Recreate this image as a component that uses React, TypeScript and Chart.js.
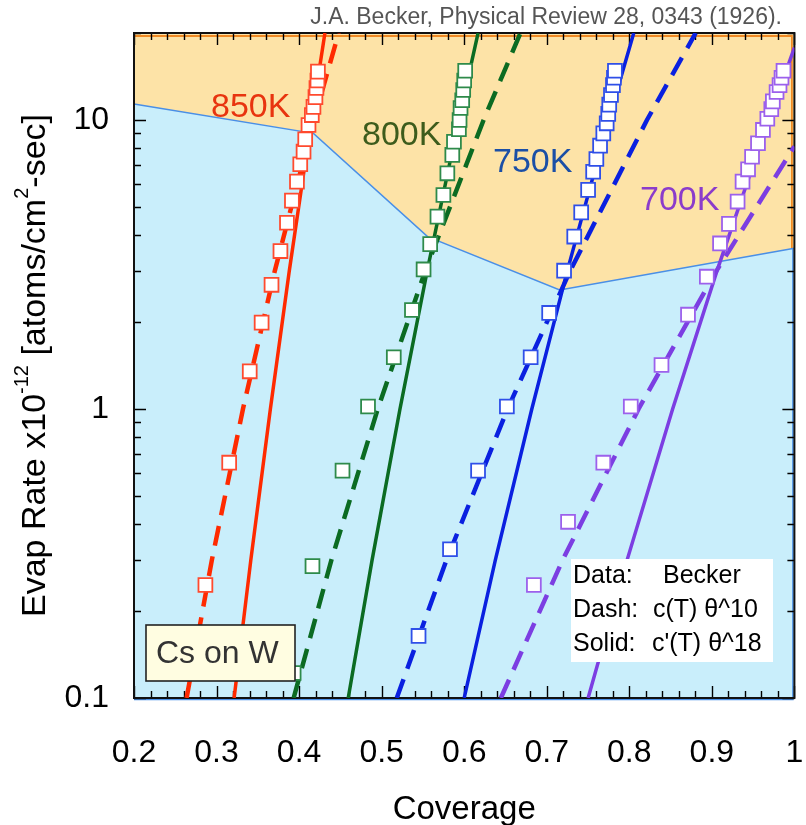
import React, { useEffect, useRef } from "react";
import { Chart, registerables } from "chart.js";
Chart.register(...registerables);

// ---- Data ----
const cov850 = [0.2865, 0.3153, 0.3402, 0.3546, 0.3666, 0.3774, 0.3853, 0.3913, 0.3974, 0.4014, 0.4054, 0.4074, 0.4114, 0.4154, 0.4174, 0.4198, 0.421, 0.4222, 0.4228];
const rate850 = [0.246, 0.652, 1.35, 1.99, 2.69, 3.52, 4.41, 5.26, 6.12, 7.03, 7.77, 8.58, 9.61, 10.4, 11.1, 12.0, 12.9, 13.7, 14.7];

const cov800 = [0.3934, 0.4162, 0.4526, 0.4835, 0.5147, 0.5367, 0.5508, 0.5588, 0.5676, 0.5748, 0.5796, 0.5856, 0.5876, 0.5936, 0.5944, 0.5956, 0.5976, 0.5988, 0.6, 0.6012];
const rate800 = [0.122, 0.286, 0.612, 1.02, 1.51, 2.2, 3.04, 3.72, 4.63, 5.5, 6.54, 7.57, 8.41, 9.29, 10.0, 11.0, 11.7, 12.7, 13.7, 14.8];

const cov750 = [0.5447, 0.5828, 0.6168, 0.6517, 0.6805, 0.7029, 0.721, 0.7333, 0.7417, 0.7501, 0.7562, 0.7601, 0.7646, 0.7685, 0.7726, 0.7745, 0.7757, 0.7778, 0.7802, 0.7814, 0.7826];
const rate750 = [0.164, 0.327, 0.612, 1.02, 1.51, 2.15, 3.01, 3.95, 4.79, 5.73, 6.62, 7.33, 8.15, 8.99, 9.74, 10.5, 11.3, 12.2, 13.2, 14.0, 14.8];

const cov700 = [0.6844, 0.7258, 0.7685, 0.8018, 0.839, 0.8711, 0.8939, 0.9099, 0.9207, 0.9312, 0.9372, 0.9439, 0.9487, 0.9559, 0.9619, 0.9672, 0.972, 0.9739, 0.9784, 0.982, 0.9844, 0.9868];
const rate700 = [0.246, 0.407, 0.652, 1.02, 1.42, 2.12, 2.87, 3.74, 4.37, 5.22, 6.12, 6.75, 7.46, 8.31, 9.24, 10.1, 10.9, 11.6, 12.5, 13.2, 14.0, 14.8];

// fit curves (dash: c(T) θ^10, solid: c'(T) θ^18)
const lineRate = [0.1, 0.3, 1, 3, 10, 20];
const dash850Cov = [0.2637, 0.2943, 0.332, 0.3705, 0.4179, 0.4479];
const solid850Cov = [0.3213, 0.3415, 0.3652, 0.3881, 0.415, 0.4313];
const dash800Cov = [0.3934, 0.4391, 0.4953, 0.5527, 0.6235, 0.6682];
const solid800Cov = [0.4595, 0.4884, 0.5222, 0.5551, 0.5934, 0.6168];
const dash750Cov = [0.5183, 0.5785, 0.6525, 0.7282, 0.8214, 0.8804];
const solid750Cov = [0.6, 0.6377, 0.6819, 0.7248, 0.7749, 0.8054];
const dash700Cov = [0.6444, 0.7192, 0.8112, 0.9054, 1.0];
const dash700Rate = [0.1, 0.3, 1, 3, 8.1];
const solid700Cov = [0.7501, 0.7973, 0.8525, 0.9061, 0.9688, 1.0];
const solid700Rate = [0.1, 0.3, 1, 3, 10, 17.8];

// boundary between the two shaded regions
const boundaryCov = [0.2, 0.4174, 0.5556, 0.7157, 1.0];
const boundaryRate = [11.36, 8.99, 3.95, 2.58, 3.6];

const tempLabels = ["850K", "800K", "750K", "700K"];
const titleText = "J.A. Becker, Physical Review 28, 0343 (1926).";
const xTitle = "Coverage";
const infoLines = [["Data:", "Becker"], ["Dash:", "c(T) θ^10"], ["Solid:", "c'(T) θ^18"]];
const boxText = "Cs on W";

const FONT = "'Liberation Sans', Arial, Helvetica, sans-serif";

function pts(xs: number[], ys: number[]) {
  return xs.map((x, i) => ({ x, y: ys[i] }));
}

function markers(xs: number[], ys: number[], color: string) {
  return {
    data: pts(xs, ys),
    showLine: false,
    pointStyle: "rect",
    pointRadius: 9.8,
    pointBorderWidth: 1.8,
    pointBorderColor: color,
    borderColor: color,
    pointBackgroundColor: "#ffffff",
    backgroundColor: "#ffffff",
    order: 0,
  };
}

function curve(xs: number[], ys: number[], color: string, dashed: boolean) {
  return {
    data: pts(xs, ys),
    showLine: true,
    pointRadius: 0,
    borderColor: color,
    backgroundColor: color,
    borderWidth: dashed ? 4.5 : 3.5,
    borderDash: dashed ? [20, 11] : [],
    borderCapStyle: "butt",
    fill: false,
    tension: 0,
    order: 1,
  };
}

export default function App() {
  const ref = useRef<HTMLCanvasElement>(null);

  useEffect(() => {
    const canvas = ref.current!;

    const decorPlugin = {
      id: "decor",
      beforeDatasetsDraw(chart: any) {
        const { ctx, chartArea: a, scales } = chart;
        const xs = scales.x, ys = scales.y;
        const b = boundaryCov.map((c, i) => [xs.getPixelForValue(c), ys.getPixelForValue(boundaryRate[i])]);
        ctx.save();
        // orange region
        ctx.beginPath();
        ctx.moveTo(a.left, a.top);
        ctx.lineTo(a.right, a.top);
        for (let i = b.length - 1; i >= 0; i--) ctx.lineTo(b[i][0], b[i][1]);
        ctx.closePath();
        ctx.fillStyle = "#fde3a7";
        ctx.fill();
        // blue region
        ctx.beginPath();
        b.forEach(([px, py], i) => (i ? ctx.lineTo(px, py) : ctx.moveTo(px, py)));
        ctx.lineTo(a.right, a.bottom);
        ctx.lineTo(a.left, a.bottom);
        ctx.closePath();
        ctx.fillStyle = "#c9eefb";
        ctx.fill();
        // region edges
        const rY = b[b.length - 1][1];
        ctx.strokeStyle = "#f08a24";
        ctx.lineWidth = 1.8;
        ctx.beginPath();
        ctx.moveTo(a.left, a.top + 3);
        ctx.lineTo(a.right - 2.5, a.top + 3);
        ctx.lineTo(a.right - 2.5, rY);
        ctx.stroke();
        ctx.strokeStyle = "#4a8fe6";
        ctx.lineWidth = 1.5;
        ctx.beginPath();
        b.forEach(([px, py], i) => (i ? ctx.lineTo(px, py) : ctx.moveTo(px, py)));
        ctx.stroke();
        ctx.beginPath();
        ctx.moveTo(a.right - 1.5, rY);
        ctx.lineTo(a.right - 1.5, a.bottom + 1.5);
        ctx.lineTo(a.left, a.bottom + 1.5);
        ctx.stroke();

        // ticks, inward on all four sides
        ctx.strokeStyle = "#000";
        ctx.lineWidth = 1.4;
        ctx.beginPath();
        for (let i = 10; i <= 50; i++) {
          const px = Math.round(xs.getPixelForValue(i / 50)) + 0.5;
          const len = i % 5 === 0 ? 12 : 7;
          ctx.moveTo(px, a.bottom);
          ctx.lineTo(px, a.bottom - len);
          ctx.moveTo(px, a.top);
          ctx.lineTo(px, a.top + len);
        }
        for (let d = -1; d <= 1; d++) {
          for (let k = 1; k <= 9; k++) {
            const v = k * Math.pow(10, d);
            if (v < 0.1 - 1e-9 || v > 20 + 1e-9) continue;
            const py = Math.round(ys.getPixelForValue(v)) + 0.5;
            const len = k === 1 ? 12 : 7;
            ctx.moveTo(a.left, py);
            ctx.lineTo(a.left + len, py);
            ctx.moveTo(a.right, py);
            ctx.lineTo(a.right - len, py);
          }
        }
        ctx.stroke();
        ctx.strokeStyle = "#111";
        ctx.lineWidth = 2;
        ctx.strokeRect(a.left, a.top, a.right - a.left, a.bottom - a.top);
        ctx.restore();
      },
      afterDatasetsDraw(chart: any) {
        const { ctx } = chart;
        ctx.save();
        ctx.textBaseline = "alphabetic";
        ctx.textAlign = "left";
        // temperature labels
        ctx.font = `34px ${FONT}`;
        const tl: [number, number, string][] = [
          [211, 117, "#e8340f"],
          [362, 145, "#3d5c1c"],
          [493, 172, "#1b4fa6"],
          [640, 210, "#8b3ccb"],
        ];
        tl.forEach(([x, y, c], i) => {
          ctx.fillStyle = c;
          ctx.fillText(tempLabels[i], x, y);
        });
        // Cs on W box
        ctx.fillStyle = "#fffde1";
        ctx.fillRect(146, 625, 149, 56);
        ctx.strokeStyle = "#222";
        ctx.lineWidth = 1.6;
        ctx.strokeRect(146, 625, 149, 56);
        ctx.fillStyle = "#333";
        ctx.font = `32px ${FONT}`;
        ctx.fillText(boxText, 156, 663);
        // info box
        ctx.fillStyle = "#ffffff";
        ctx.fillRect(571, 559, 202, 103);
        ctx.fillStyle = "#000";
        ctx.font = `25px ${FONT}`;
        const secondX = [663, 653, 652];
        infoLines.forEach(([a, b], i) => {
          const y = 583 + i * 34;
          ctx.fillText(a, 573, y);
          ctx.fillText(b, secondX[i], y);
        });
        ctx.restore();
      },
      afterDraw(chart: any) {
        const { ctx, chartArea: a } = chart;
        ctx.save();
        // title
        ctx.fillStyle = "#555";
        ctx.font = `23px ${FONT}`;
        ctx.textAlign = "right";
        ctx.textBaseline = "alphabetic";
        ctx.fillText(titleText, 782, 24);
        // x title
        ctx.fillStyle = "#000";
        ctx.font = `33px ${FONT}`;
        ctx.textAlign = "center";
        ctx.fillText(xTitle, (a.left + a.right) / 2, 819);
        // y title with superscripts
        const parts: [string, boolean][] = [
          ["Evap Rate x10", false],
          ["-12", true],
          [" [atoms/cm", false],
          ["2", true],
          ["-sec]", false],
        ];
        const mainF = `34px ${FONT}`, supF = `20px ${FONT}`;
        let total = 0;
        const widths = parts.map(([t, s]) => {
          ctx.font = s ? supF : mainF;
          const w = ctx.measureText(t).width;
          total += w;
          return w;
        });
        ctx.translate(45, (a.top + a.bottom) / 2);
        ctx.rotate(-Math.PI / 2);
        ctx.textAlign = "left";
        let u = -total / 2;
        parts.forEach(([t, s], i) => {
          ctx.font = s ? supF : mainF;
          ctx.fillText(t, u, s ? -17 : 0);
          u += widths[i];
        });
        ctx.restore();
      },
    };

    const chart = new Chart(canvas, {
      type: "scatter",
      data: {
        datasets: [
          markers(cov850, rate850, "#ff4a2e"),
          markers(cov800, rate800, "#2e8a4a"),
          markers(cov750, rate750, "#2f4fe8"),
          markers(cov700, rate700, "#9c60ec"),
          curve(dash850Cov, lineRate, "#ff2a00", true),
          curve(solid850Cov, lineRate, "#ff2a00", false),
          curve(dash800Cov, lineRate, "#0b6b22", true),
          curve(solid800Cov, lineRate, "#0b6b22", false),
          curve(dash750Cov, lineRate, "#0a20e0", true),
          curve(solid750Cov, lineRate, "#0a20e0", false),
          curve(dash700Cov, dash700Rate, "#7c3ee2", true),
          curve(solid700Cov, solid700Rate, "#7c3ee2", false),
        ] as any,
      },
      options: {
        responsive: false,
        animation: false,
        devicePixelRatio: 1,
        events: [],
        layout: { padding: { left: 0, top: 33, right: 6, bottom: 0 } },
        plugins: { legend: { display: false }, tooltip: { enabled: false }, title: { display: false } },
        scales: {
          x: {
            type: "linear",
            min: 0.2,
            max: 1.0,
            grid: { display: false },
            border: { display: false },
            ticks: {
              stepSize: 0.1,
              color: "#000",
              padding: 28,
              font: { family: FONT, size: 32 },
              maxRotation: 0,
              autoSkip: false,
              callback: (v: any) => (Math.abs(v - 1) < 1e-9 ? "1" : Number(v).toFixed(1)),
            },
            afterFit: (s: any) => {
              s.height = 127;
              s.paddingLeft = 0;
              s.paddingRight = 0;
            },
          },
          y: {
            type: "logarithmic",
            min: 0.1,
            max: 20,
            grid: { display: false },
            border: { display: false },
            ticks: {
              color: "#000",
              padding: 17,
              autoSkip: false,
              font: { family: FONT, size: 32 },
              callback: (v: any) => {
                const l = Math.log10(Number(v));
                if (Math.abs(l - Math.round(l)) > 1e-6) return "";
                return Number(v) >= 1 ? String(Math.round(Number(v))) : "0.1";
              },
            },
            afterFit: (s: any) => {
              s.width = 134;
              s.paddingTop = 0;
              s.paddingBottom = 0;
            },
          },
        },
      } as any,
      plugins: [decorPlugin],
    });
    return () => chart.destroy();
  }, []);

  return (
    <div style={{ position: "absolute", left: 0, top: 0, width: 806, height: 825, background: "#fff" }}>
      <canvas ref={ref} width={806} height={825} style={{ display: "block", width: 806, height: 825 }} />
    </div>
  );
}
